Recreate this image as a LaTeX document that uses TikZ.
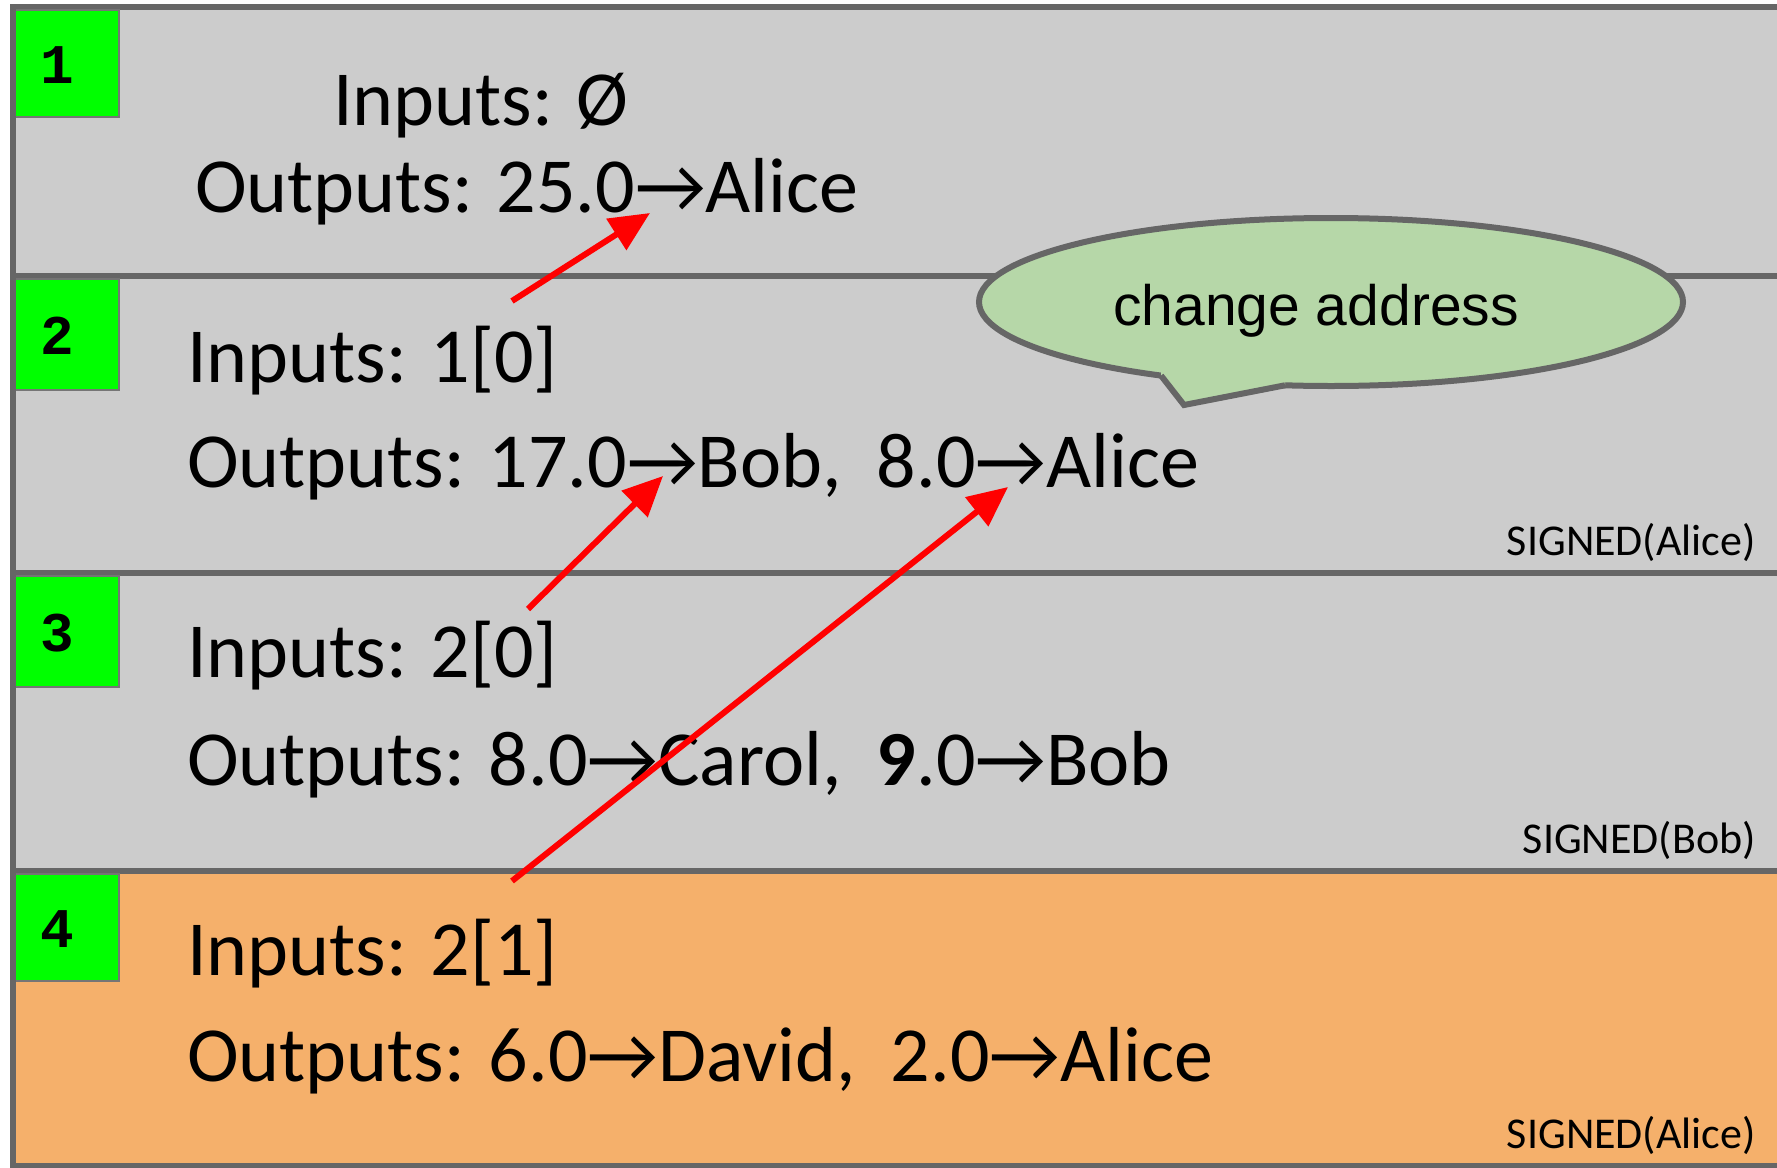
\documentclass[tikz,border=0pt]{standalone}
\usepackage{fontspec}
\setmainfont{Carlito}
\newfontfamily\monob{Liberation Mono}[BoldFont={Liberation Mono Bold}]
\newfontfamily\bubfont{Liberation Sans}
\usetikzlibrary{arrows.meta,shapes.geometric}
\definecolor{rowgray}{HTML}{CCCCCC}
\definecolor{framegray}{HTML}{666666}
\definecolor{rowor}{HTML}{F5B06B}
\definecolor{boxgreen}{HTML}{00FF00}
\definecolor{bubgreen}{HTML}{B6D7A8}
\tikzset{
  rowbox/.style={draw=framegray, line width=6pt, fill=rowgray},
  numbox/.style={draw=framegray!90, line width=2.5pt, fill=boxgreen},
  numtxt/.style={inner sep=0pt, font=\fontsize{56}{60}\selectfont\monob\bfseries},
  main/.style={inner sep=0pt, anchor=base west, font=\fontsize{78}{88}\selectfont},
  sig/.style={inner sep=0pt, anchor=base east, font=\fontsize{44}{50}\selectfont},
  link/.style={draw=red, line width=6pt, -{Triangle[length=40pt,width=36pt]}},
}
\begin{document}
\begin{tikzpicture}[x=1pt,y=-1pt]
\useasboundingbox (0,0) rectangle (1777,1167);
\fill[white] (0,0) rectangle (1777,1167);
\clip (0,0) rectangle (1777,1167);
% rows
\draw[rowbox] (13,7) rectangle (1800,276);
\draw[rowbox] (13,276) rectangle (1800,573);
\draw[rowbox] (13,573) rectangle (1800,871);
\draw[rowbox, fill=rowor] (13,871) rectangle (1800,1166);
% number boxes
\draw[numbox] (13,10) rectangle (119,117);
\draw[numbox] (13,279) rectangle (119,390);
\draw[numbox] (13,576) rectangle (119,687);
\draw[numbox] (13,874) rectangle (119,981);
\draw[framegray, line width=6pt] (13,7) -- (13,1170);
\node[numtxt] (n1) at (57,65) {1};
\node[numtxt] (n2) at (57,336) {2};
\node[numtxt] (n3) at (57,633) {3};
\node[numtxt] (n4) at (57,929) {4};
% texts
\node[main] (in1) at (333,125) {Inputs: Ø};
\node[main] (out1) at (195,212) {Outputs: 25.0→Alice};
\node[main] (in2) at (187,382) {Inputs: 1[0]};
\node[main] (out2) at (187,487) {Outputs: 17.0→Bob,~ 8.0→Alice};
\node[sig] (s2) at (1756,555) {SIGNED(Alice)};
\node[main] (in3) at (187,677) {Inputs: 2[0]};
\node[main] (out3) at (187,785) {Outputs: 8.0→Carol,~ \textbf{9}.0→Bob};
\node[sig] (s3) at (1756,853) {SIGNED(Bob)};
\node[main] (in4) at (187,975) {Inputs: 2[1]};
\node[main] (out4) at (187,1081) {Outputs: 6.0→David,~ 2.0→Alice};
\node[sig] (s4) at (1756,1148) {SIGNED(Alice)};
% speech bubble
\node[ellipse, draw=framegray, line width=6pt, fill=bubgreen, minimum width=704pt, minimum height=168pt, inner sep=0pt] (bub) at (1331,302) {};
\fill[bubgreen] (1161,375.6) -- (1184,405) -- (1285,385.3) -- (1285,368) -- (1161,366) -- cycle;
\draw[framegray, line width=6pt, line join=miter] (1161,375.6) -- (1184,405) -- (1285,385.3);
\node[inner sep=0pt, anchor=base west, font=\fontsize{57}{62}\selectfont\bubfont] (bubtxt) at (1113,325) {change address};
% arrows
\coordinate (a1s) at (512,301);
\coordinate (a1e) at (650,213);
\coordinate (a2s) at (528,609);
\coordinate (a2e) at (663,476);
\coordinate (a3s) at (512,881);
\coordinate (a3e) at (1008,487);
\draw[link] (a1s) -- (a1e);
\draw[link] (a2s) -- (a2e);
\draw[link] (a3s) -- (a3e);
\end{tikzpicture}
\end{document}
